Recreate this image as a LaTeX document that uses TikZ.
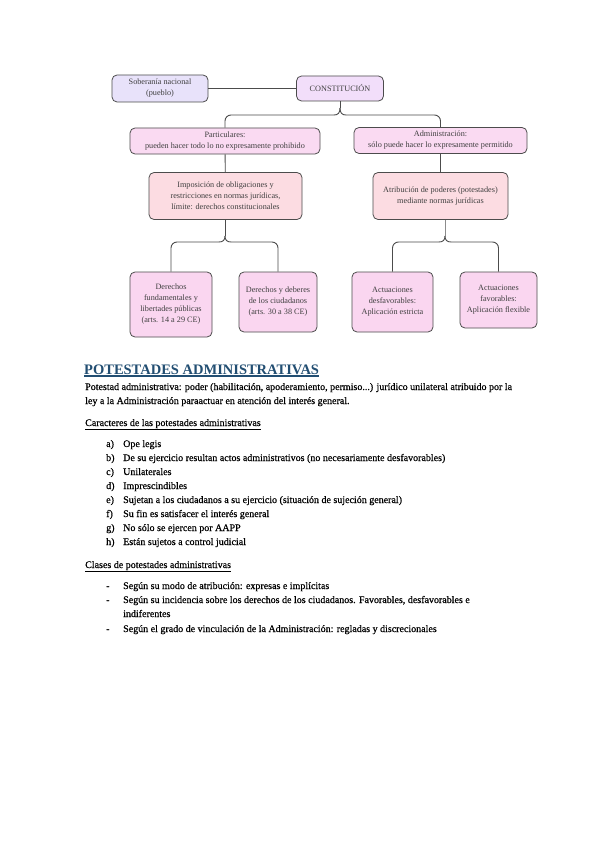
\documentclass[tikz,border=0pt]{standalone}
\usepackage{fontspec}
\setmainfont{Liberation Serif}
\newfontfamily\heavyfont{Liberation Serif}[FakeBold=0.6]
\definecolor{cSob}{RGB}{232,226,250}
\definecolor{cCon}{RGB}{242,222,250}
\definecolor{cMid}{RGB}{250,218,242}
\definecolor{cImp}{RGB}{252,220,226}
\definecolor{cLow}{RGB}{250,214,240}
\definecolor{cTit}{RGB}{34,78,114}
\begin{document}
\begin{tikzpicture}[x=1pt,y=-1pt,
  box/.style={draw=black!70, line width=0.8pt, rounded corners=5pt, align=center,
    inner sep=1pt, text=black!75, font=\fontsize{8.2}{11}\selectfont},
  conn/.style={draw=black!70, line width=0.9pt},
  body/.style={anchor=base west, inner sep=0pt, font=\heavyfont\fontsize{10}{12}\selectfont}]
\useasboundingbox (0,0) rectangle (599,848);
\fill[white] (0,0) rectangle (599,848);

% top row
\node[box, fill=cSob, minimum width=96pt, minimum height=27pt] (sob) at (160,88.5) {Soberanía nacional\\(pueblo)};
\node[box, fill=cCon, minimum width=87pt, minimum height=25pt] (con) at (340,88.5) {CONSTITUCIÓN};
\draw[conn] (sob) -- (con);

% second row
\node[box, fill=cMid, minimum width=190pt, minimum height=26pt] (par) at (225,141) {Particulares:\\pueden hacer todo lo no expresamente prohibido};
\node[box, fill=cMid, minimum width=173pt, minimum height=26pt] (adm) at (440.5,140.5) {Administración:\\sólo puede hacer lo expresamente permitido};

% third row
\node[box, fill=cImp, minimum width=153pt, minimum height=47pt] (imp) at (225.5,196) {Imposición de obligaciones y\\restricciones en normas jurídicas,\\límite: derechos constitucionales};
\node[box, fill=cImp, minimum width=135pt, minimum height=47pt] (atr) at (440.5,196) {Atribución de poderes (potestades)\\mediante normas jurídicas};
\draw[conn] (par) -- (imp);
\draw[conn] (adm) -- (atr);

% bottom row
\node[box, fill=cLow, minimum width=82pt, minimum height=65pt] (df) at (171,304.5) {Derechos\\fundamentales y\\libertades públicas\\(arts. 14 a 29 CE)};
\node[box, fill=cLow, minimum width=78pt, minimum height=60pt] (dd) at (278,302) {Derechos y deberes\\de los ciudadanos\\(arts. 30 a 38 CE)};
\node[box, fill=cLow, minimum width=81pt, minimum height=60pt] (ad) at (392.5,302) {Actuaciones\\desfavorables:\\Aplicación estricta};
\node[box, fill=cLow, minimum width=77pt, minimum height=56pt] (af) at (498.5,300) {Actuaciones\\favorables:\\Aplicación flexible};

% brace 1
\coordinate (t1) at (340,108);
\coordinate (l1) at (334,115);
\coordinate (r1) at (346,115);
\draw[conn] (con.south -| t1) -- (t1);
\draw[conn, rounded corners=6pt] (par.north) |- (l1);
\draw[conn] (l1) .. controls (338,115) and (340,113) .. (t1);
\draw[conn, rounded corners=6pt] (adm.north) |- (r1);
\draw[conn] (r1) .. controls (342,115) and (340,113) .. (t1);

% brace 2
\coordinate (t2) at (225,236);
\coordinate (l2) at (219,242);
\coordinate (r2) at (231,242);
\draw[conn] (imp.south -| t2) -- (t2);
\draw[conn, rounded corners=6pt] (df.north) |- (l2);
\draw[conn] (l2) .. controls (223,242) and (225,240) .. (t2);
\draw[conn, rounded corners=6pt] (dd.north) |- (r2);
\draw[conn] (r2) .. controls (227,242) and (225,240) .. (t2);

% brace 3
\coordinate (t3) at (445,236);
\coordinate (l3) at (439,242);
\coordinate (r3) at (451,242);
\draw[conn, draw=black!45, line width=0.6pt] (atr.south -| t3) -- (t3);
\draw[conn, rounded corners=6pt] (ad.north) |- (l3);
\draw[conn] (l3) .. controls (443,242) and (445,240) .. (t3);
\draw[conn, rounded corners=6pt] (af.north) |- (r3);
\draw[conn] (r3) .. controls (447,242) and (445,240) .. (t3);

% text
\node[anchor=base west, inner sep=0pt, text=cTit, font=\fontsize{14.5}{17}\selectfont\bfseries] (tit) at (84,374) {POTESTADES ADMINISTRATIVAS};
\draw[cTit, line width=1.2pt] ([yshift=-2pt]tit.base west) -- ([yshift=-2pt]tit.base east);
\node[body] (p1) at (85,390) {Potestad administrativa: poder (habilitación, apoderamiento, permiso...) jurídico unilateral atribuido por la};
\node[body] (p2) at (85,404) {ley a la Administración paraactuar en atención del interés general.};
\node[body] (car) at (85,426) {\underline{Caracteres de las potestades administrativas}};

\node[body] (la) at (106,447) {a)}; \node[body] (ia) at (123,447) {Ope legis};
\node[body] (lb) at (106,461) {b)}; \node[body] (ib) at (123,461) {De su ejercicio resultan actos administrativos (no necesariamente desfavorables)};
\node[body] (lc) at (106,475) {c)}; \node[body] (ic) at (123,475) {Unilaterales};
\node[body] (ld) at (106,489) {d)}; \node[body] (id) at (123,489) {Imprescindibles};
\node[body] (le) at (106,503) {e)}; \node[body] (ie) at (123,503) {Sujetan a los ciudadanos a su ejercicio (situación de sujeción general)};
\node[body] (lf) at (106,517) {f)}; \node[body] (if) at (123,517) {Su fin es satisfacer el interés general};
\node[body] (lg) at (106,531) {g)}; \node[body] (ig) at (123,531) {No sólo se ejercen por AAPP};
\node[body] (lh) at (106,545) {h)}; \node[body] (ih) at (123,545) {Están sujetos a control judicial};

\node[body] (cla) at (85,568) {\underline{Clases de potestades administrativas}};
\node[body] (d1) at (106,589) {-}; \node[body] (s1) at (123,589) {Según su modo de atribución: expresas e implícitas};
\node[body] (d2) at (106,603) {-}; \node[body] (s2) at (123,603) {Según su incidencia sobre los derechos de los ciudadanos. Favorables, desfavorables e};
\node[body] (s2b) at (123,617) {indiferentes};
\node[body] (d3) at (106,632) {-}; \node[body] (s3) at (123,632) {Según el grado de vinculación de la Administración: regladas y discrecionales};
\end{tikzpicture}
\end{document}
